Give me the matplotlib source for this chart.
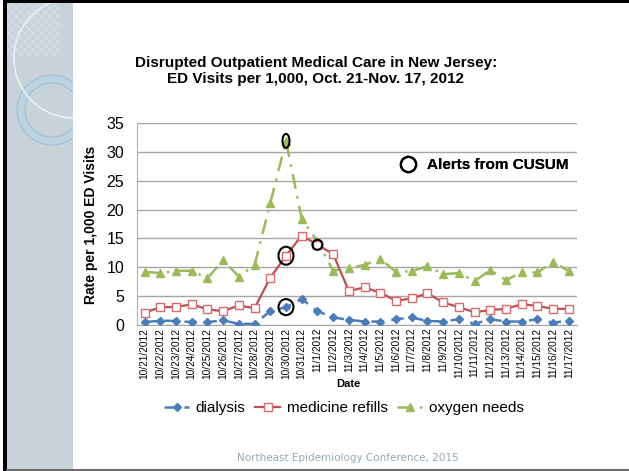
import matplotlib
matplotlib.use("Agg")
import matplotlib.pyplot as plt
from matplotlib.patches import Rectangle, Circle, Wedge, Ellipse
from matplotlib.lines import Line2D

plt.rcParams['font.family'] = ['Liberation Sans', 'DejaVu Sans']

# ---- data ----
dates = ['10/21/2012', '10/22/2012', '10/23/2012', '10/24/2012', '10/25/2012',
         '10/26/2012', '10/27/2012', '10/28/2012', '10/29/2012', '10/30/2012',
         '10/31/2012', '11/1/2012', '11/2/2012', '11/3/2012', '11/4/2012',
         '11/5/2012', '11/6/2012', '11/7/2012', '11/8/2012', '11/9/2012',
         '11/10/2012', '11/11/2012', '11/12/2012', '11/13/2012', '11/14/2012',
         '11/15/2012', '11/16/2012', '11/17/2012']
dialysis = [0.5, 0.75, 0.7, 0.5, 0.5, 0.8, 0.2, 0.2, 2.4, 3.1, 4.5, 2.4, 1.3, 0.9,
            0.6, 0.6, 1.0, 1.3, 0.7, 0.6, 1.0, 0.2, 1.0, 0.6, 0.6, 1.0, 0.4, 0.75]
medicine_refills = [2.1, 3.1, 3.1, 3.6, 2.7, 2.4, 3.4, 2.9, 8.2, 12.0, 15.5, 13.9, 12.3, 5.9,
                    6.5, 5.6, 4.2, 4.6, 5.5, 3.9, 3.1, 2.2, 2.6, 2.8, 3.6, 3.3, 2.8, 2.8]
oxygen_needs = [9.2, 9.0, 9.4, 9.4, 8.1, 11.2, 8.4, 10.4, 21.1, 31.9, 18.4, 14.5, 9.4, 9.9,
                10.4, 11.5, 9.2, 9.3, 10.2, 8.8, 9.0, 7.6, 9.5, 7.8, 9.1, 9.1, 11.0, 9.3]
y_ticks = [0, 5, 10, 15, 20, 25, 30, 35]

# CUSUM alerts: (series, date) and ellipse size in pixels (w, h)
alerts = [(dialysis, '10/30/2012', 15, 16),
          (medicine_refills, '10/30/2012', 15, 18),
          (oxygen_needs, '10/30/2012', 7, 14),
          (medicine_refills, '11/1/2012', 10, 10)]

W, H = 629, 471
fig = plt.figure(figsize=(W / 100, H / 100), dpi=100)

# ---- slide background (pixel coordinates) ----
bg = fig.add_axes([0, 0, 1, 1], zorder=-10)
bg.set_xlim(0, W)
bg.set_ylim(H, 0)
bg.axis('off')
side = Rectangle((7, 3), 66, H - 4, facecolor='#c7d2d9', edgecolor='none')
bg.add_patch(side)
dots = Rectangle((7, 3), 53, 54, facecolor='none', edgecolor='#d4dde3',
                 hatch='xxxx', linewidth=0)
bg.add_patch(dots)
dots.set_clip_path(side)
ring = Wedge((52, 110), 35, 0, 360, width=8, facecolor='#bcd3e2', edgecolor='#a3bfd2', lw=0.8)
bg.add_patch(ring)
ring.set_clip_path(side)
arc = Circle((74, 58), 60, facecolor='none', edgecolor='#e8eef2', lw=1.3)
bg.add_patch(arc)
arc.set_clip_path(side)
bg.add_patch(Rectangle((3, 0), 4, H, facecolor='black', edgecolor='none'))
bg.add_patch(Rectangle((3, 0), W - 3, 3, facecolor='black', edgecolor='none'))
bg.plot([7, W], [469.5, 469.5], color='#6b6b6b', lw=1.5)

# ---- chart ----
ax = fig.add_axes([136.7 / W, 1 - 325 / H, 440 / W, 202 / H])
x = list(range(len(dates)))

ax.plot(x, dialysis, color='#4a7ebb', lw=1.8, ls=(0, (5, 3)), marker='D', ms=4,
        label='dialysis', zorder=3)
ax.plot(x, medicine_refills, color='#c0504d', lw=1.6, marker='s', ms=6,
        mfc='white', mec='#e0686a', mew=1.0, label='medicine refills', zorder=3)
ax.plot(x, oxygen_needs, color='#9bbb59', lw=1.8, ls=(0, (6, 3, 1, 3)), marker='^', ms=6,
        label='oxygen needs', zorder=2)

# alert ellipses (pixel size -> data units)
px_x = 440 / len(dates)
px_y = 202 / 35
for series, d, w, h in alerts:
    i = dates.index(d)
    ax.add_patch(Ellipse((i, series[i]), w / px_x, h / px_y, facecolor='none',
                         edgecolor='black', lw=1.5, zorder=5))

ax.set_xlim(-0.5, len(dates) - 0.5)
ax.set_ylim(0, 35)
ax.set_yticks(y_ticks)
ax.set_xticks(x)
ax.set_xticklabels(dates, rotation=90, fontsize=7.3)
ax.tick_params(axis='x', length=0, pad=2)
ax.tick_params(axis='y', length=0, pad=9, labelsize=11.5)
ax.grid(axis='y', color='#a6a6a6', lw=1)
ax.set_axisbelow(True)
for s in ['top', 'right']:
    ax.spines[s].set_visible(False)
ax.spines['left'].set_color('#b0b0b0')
ax.spines['bottom'].set_color('#a6a6a6')

ax.set_ylabel('Rate per 1,000 ED Visits', fontsize=10, fontweight='bold')
ax.yaxis.set_label_coords(-0.088, 0.495)
ax.set_xlabel('Date', fontsize=8, fontweight='bold')
ax.xaxis.set_label_coords(0.48, -0.268)

alert_handle = Line2D([], [], ls='none', marker='o', ms=11, mfc='none', mec='black', mew=1.6)
leg2 = ax.legend([alert_handle], ['Alerts from CUSUM'], loc='center left',
                 bbox_to_anchor=(0.578, 0.792), frameon=False, borderpad=0,
                 handlelength=1.2, handletextpad=0.65,
                 prop={'weight': 'bold', 'size': 11})
ax.add_artist(leg2)

handles, labels = ax.get_legend_handles_labels()
fig.legend(handles, labels, loc='center', bbox_to_anchor=(344 / W, 1 - 408 / H),
           ncol=3, frameon=False, fontsize=11, handlelength=1.6,
           handletextpad=0.45, columnspacing=0.65)

fig.text(316 / W, 1 - 71 / H,
         'Disrupted Outpatient Medical Care in New Jersey:\nED Visits per 1,000, Oct. 21-Nov. 17, 2012',
         ha='center', va='center', fontsize=11, fontweight='bold', linespacing=1.2)
fig.text(348 / W, 1 - 458 / H, 'Northeast Epidemiology Conference, 2015',
         ha='center', va='center', fontsize=7.5, color='#94a8b7', family='DejaVu Sans')

fig.savefig('out.png', dpi=100)
